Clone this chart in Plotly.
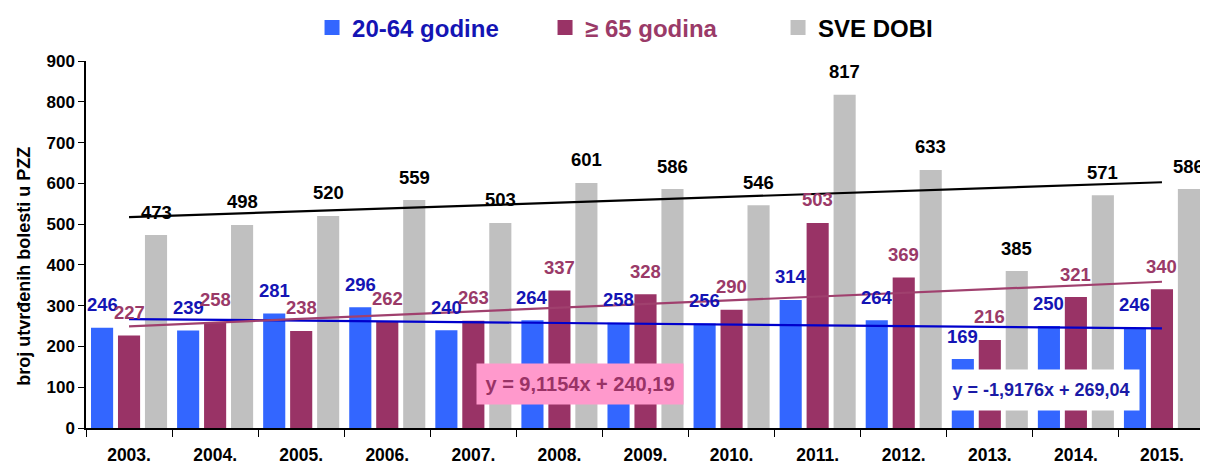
import numpy as np
import plotly.graph_objects as go

years = ["2003.", "2004.", "2005.", "2006.", "2007.", "2008.", "2009.",
         "2010.", "2011.", "2012.", "2013.", "2014.", "2015."]
g20_64 = [246, 239, 281, 296, 240, 264, 258, 256, 314, 264, 169, 250, 246]
g65 = [227, 258, 238, 262, 263, 337, 328, 290, 503, 369, 216, 321, 340]
sve = [473, 498, 520, 559, 503, 601, 586, 546, 817, 633, 385, 571, 586]

names = ["20-64 godine", "\u2265 65 godina", "SVE DOBI"]
bar_colors = ["#3366FF", "#993366", "#C0C0C0"]
label_colors = ["#1414B4", "#9A3A68", "#000000"]
trend_colors = ["#0000CC", "#A0406E", "#000000"]
series = [g20_64, g65, sve]

FONT = "Liberation Sans, Arial, sans-serif"
bargap = 0.06
bargroupgap = 0.18

fig = go.Figure()
for vals, nm, bc in zip(series, names, bar_colors):
    fig.add_trace(go.Bar(
        x=years, y=vals, marker=dict(color=bc, line=dict(width=0)),
        name=nm, showlegend=False, hoverinfo="x+y"))

# legend entries (square swatches)
for nm, bc, lc in zip(names, bar_colors, label_colors):
    fig.add_trace(go.Scatter(
        x=[None], y=[None], mode="markers",
        marker=dict(symbol="square", size=15, color=bc),
        name=f"<span style='color:{lc}'><b>{nm}</b></span>"))

# linear trend lines (least squares fit of each series)
xi = np.arange(1, len(years) + 1)
for vals, tc in zip(series, trend_colors):
    k, b = np.polyfit(xi, vals, 1)
    fig.add_trace(go.Scatter(
        x=years, y=k * xi + b, mode="lines",
        line=dict(color=tc, width=2.2), showlegend=False, hoverinfo="skip"))

# data labels
slot = (1 - bargap) / 3
annotations = []
for s, (vals, lc) in enumerate(zip(series, label_colors)):
    off = (s - 1) * slot
    for i, v in enumerate(vals):
        annotations.append(dict(
            x=i + off, y=v, xref="x", yref="y", text=f"<b>{v}</b>",
            showarrow=False, yanchor="middle", yshift=23,
            font=dict(family=FONT, size=18.5, color=lc)))

# trend equations
annotations.append(dict(
    x=5.24, y=108, xref="x", yref="y", text="<b>y = 9,1154x + 240,19</b>",
    showarrow=False, bgcolor="#FF99CC", borderpad=3, width=200, height=34,
    font=dict(family=FONT, size=20, color="#993366")))
annotations.append(dict(
    x=10.59, y=93, xref="x", yref="y", text="<b>y = -1,9176x + 269,04</b>",
    showarrow=False, bgcolor="#FFFFFF", borderpad=3, width=190, height=34,
    font=dict(family=FONT, size=18, color="#1A1AA6")))

# y axis title
annotations.append(dict(
    x=-0.056, y=0.44, xref="paper", yref="paper", textangle=-90,
    xanchor="center", yanchor="middle",
    text="<b>broj utvr\u0111enih bolesti u PZZ</b>", showarrow=False,
    font=dict(family=FONT, size=18, color="#000000")))

fig.update_layout(
    width=1200, height=459,
    margin=dict(l=78, r=3, t=53, b=39, autoexpand=False),
    paper_bgcolor="white", plot_bgcolor="white",
    barmode="group", bargap=bargap, bargroupgap=bargroupgap,
    font=dict(family=FONT, color="#000000"),
    legend=dict(orientation="h", x=0.202, xanchor="left", y=1.09,
                yanchor="middle", font=dict(family=FONT, size=24),
                entrywidth=188, itemclick=False, bgcolor="rgba(0,0,0,0)"),
    annotations=annotations,
    xaxis=dict(type="category", tickson="boundaries", ticks="outside",
               ticklen=7, tickcolor="#000000", showline=True,
               linecolor="#000000", linewidth=1.5, showgrid=False,
               ticklabelstandoff=10, automargin=False,
               tickfont=dict(family=FONT, size=17.5, color="#000000"),
               tickprefix="<b>", ticksuffix="</b>",
               range=[-0.5, len(years) - 0.5]),
    yaxis=dict(range=[0, 900], dtick=100, ticks="outside", ticklen=6,
               tickcolor="#000000", showline=True, linecolor="#000000",
               linewidth=1.5, showgrid=False, zeroline=False,
               automargin=False,
               tickfont=dict(family=FONT, size=17, color="#000000"),
               tickprefix="<b>", ticksuffix="</b>"),
)

fig.write_html("out.html")
